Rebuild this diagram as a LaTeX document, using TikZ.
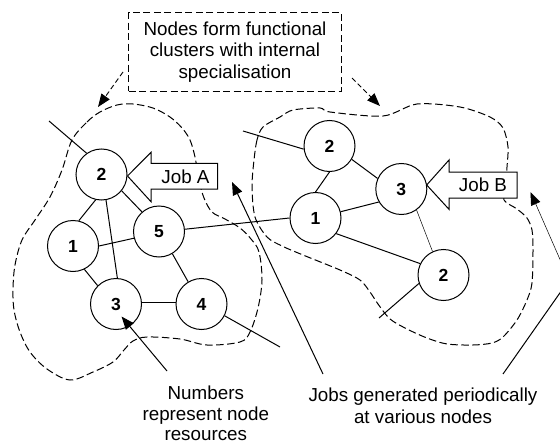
\documentclass[tikz,border=0pt]{standalone}
\usepackage{fontspec}
\setmainfont{Liberation Sans}
\usetikzlibrary{arrows.meta}
\begin{document}
\begin{tikzpicture}[x=1pt,y=-1pt,
  res/.style={circle,draw,fill=white,line width=1pt,minimum size=51pt,inner sep=0pt,font=\fontsize{17.5}{20}\selectfont\bfseries},
  link/.style={line width=1pt},
  thinlink/.style={line width=0.5pt},
  cluster/.style={line width=1pt,dash pattern=on 7.5pt off 3.5pt},
  jobarrow/.style={draw,fill=white,line width=1pt,line join=miter},
  lbl/.style={font=\fontsize{18.8}{21.5}\selectfont,align=center,inner sep=0pt},
  pointer/.style={line width=1pt,-{Triangle[length=13pt,width=10pt]}},
  dpointer/.style={line width=0.9pt,dash pattern=on 5pt off 3pt,-{Triangle[length=13pt,width=10pt]}},
]
\clip (0,0) rectangle (560,444);
\fill[white] (0,0) rectangle (560,444);

% clusters
\draw[cluster] plot[smooth cycle, tension=0.55] coordinates {
 (72,140) (87,122) (100,112) (117,105) (133,104) (153,108) (170,117) (182,128)
 (190,140) (195,157) (199,180) (204,198) (212,212) (225,219) (240,228) (251,239)
 (259,252) (262,280) (258,308) (250,332) (240,342) (207,345) (180,339) (147,337)
 (133,341) (124,350) (113,362) (93,372) (70,380) (47,369) (30,352) (20,332)
 (14,310) (13,289) (15,265) (22,240) (35,220) (50,197) (62,170)};
\draw[cluster] plot[smooth cycle, tension=0.5] coordinates {
 (263,127) (257,140) (254,160) (252,187) (255,217) (267,237) (282,246) (303,255)
 (340,270) (360,280) (370,292) (378,304) (390,319) (407,329) (427,338) (447,344)
 (473,345) (492,343) (503,337) (517,320) (527,300) (532,283) (533,250) (532,230)
 (527,218) (517,209) (504,200) (506,185) (507,167) (508,147) (503,128) (490,117)
 (460,107) (417,104) (383,116) (330,112) (320,108) (293,110) (280,117)};

% resource nodes
\node[res] (L2) at (101.5,174.5) {2};
\node[res] (L1) at (73,246) {1};
\node[res] (L5) at (159,231.5) {5};
\node[res] (L3) at (116,304) {3};
\node[res] (L4) at (201.5,304) {4};
\node[res] (R2) at (329.5,146) {2};
\node[res] (R3) at (401.3,189) {3};
\node[res] (R1) at (315.5,218) {1};
\node[res] (R2b) at (443.5,275) {2};

\coordinate (eL2) at (49,121);
\coordinate (eL4) at (280,347);
\coordinate (eR2) at (243,131);
\coordinate (eR2b) at (379,318);

% links
\draw[link] (eL2) -- (L2.125);
\draw[link] (L2.257) -- (L1.77);
\draw[link] (L2.280) -- (L3.87);
\draw[link] (L2.321) -- (L5.131);
\draw[link] (L1.0) -- (L5.195);
\draw[link] (L1.296) -- (L3.135);
\draw[link] (L5.301) -- (L4.121);
\draw[link] (L3.3) -- (L4.177);
\draw[link] (L4.333) -- (eL4);
\draw[link] (L5.5) -- (R1.180);
\draw[link] (eR2) -- (R2.187);
\draw[link] (R2.270) -- (R1.90);
\draw[link] (R2.329) -- (R3.156);
\draw[link] (R1.14) -- (R3.210);
\draw[link] (R1.323) -- (R2b.154);
\draw[thinlink] (R3.306) -- (R2b.115);
\draw[link] (R2b.199) -- (eR2b);

% job arrows
\draw[jobarrow] (127.5,176) -- (151,152.3) -- (151,163.3) -- (217.7,163.3) -- (217.7,189) -- (151,189) -- (151,201.7) -- cycle;
\node[lbl,anchor=base] (jobA) at (185.5,183.5) {Job A};
\draw[jobarrow] (426.7,185) -- (449,160) -- (449,172) -- (517,172) -- (517,198) -- (449,198) -- (449,209.3) -- cycle;
\node[lbl,anchor=base] (jobB) at (483,191.5) {Job B};

% note box
\node[lbl,draw,dash pattern=on 7pt off 3.5pt,line width=0.9pt,minimum width=213pt,minimum height=78.5pt] (note) at (235,52) {Nodes form functional\\clusters with internal\\specialisation};
\coordinate (nL) at (123,72);
\coordinate (nLt) at (98,107);
\coordinate (nR) at (352,78);
\coordinate (nRt) at (380,106);
\draw[dpointer] (nL) -- (nLt);
\draw[dpointer] (nR) -- (nRt);

% bottom labels and pointers
\node[lbl,anchor=north,font=\fontsize{18.8}{20.8}\selectfont] (numtxt) at (205.8,385.5) {Numbers\\represent node\\resources};
\node[lbl,anchor=north] (jobtxt) at (423,388) {Jobs generated periodically\\at various nodes};
\coordinate (pN) at (167,371);
\coordinate (tN) at (121.5,316.5);
\draw[pointer] (pN) -- (tN);
\coordinate (pJ1) at (323,374);
\coordinate (tJ1) at (232,182);
\draw[pointer] (pJ1) -- (tJ1);
\coordinate (pJ2) at (503,374);
\coordinate (bend) at (569,280);
\coordinate (tJ2) at (530.5,192);
\draw[link] (pJ2) -- (bend);
\draw[thinlink,-{Triangle[length=13pt,width=10pt]}] (bend) -- (tJ2);
\end{tikzpicture}
\end{document}
